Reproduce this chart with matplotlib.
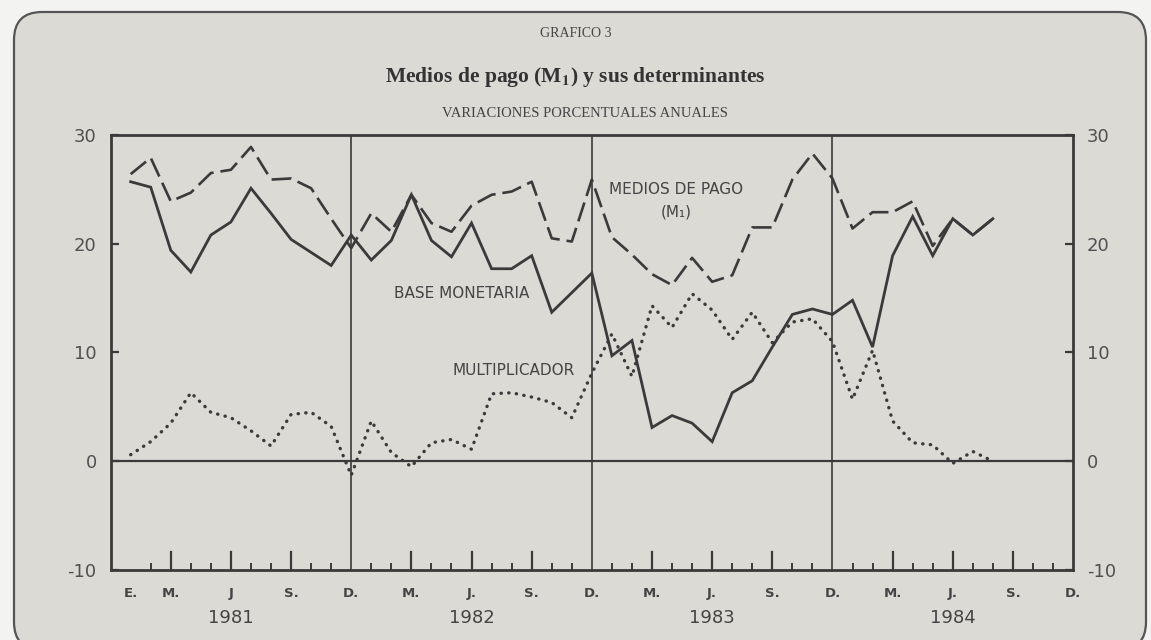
import numpy as np
import matplotlib
matplotlib.use("Agg")
import matplotlib.pyplot as plt
from matplotlib.patches import FancyBboxPatch

# ── Data: annual % change, monthly Jan 1981 .. Aug 1984 ──────────────────────
medios_pago = [
    26.4, 27.9, 23.9, 24.7, 26.5, 26.8, 28.9, 25.9, 26.0, 25.1, 22.3, 19.6,   # 1981
    22.8, 21.1, 24.5, 21.9, 21.1, 23.5, 24.5, 24.8, 25.7, 20.5, 20.2, 25.9,   # 1982
    20.6, 19.0, 17.2, 16.2, 18.7, 16.5, 17.1, 21.5, 21.5, 25.9, 28.3, 26.0,   # 1983
    21.4, 22.9, 22.9, 23.9, 19.8, 22.3, 20.8, 22.3,                           # 1984
]
base_monetaria = [
    25.7, 25.2, 19.4, 17.4, 20.8, 22.0, 25.1, 22.8, 20.4, 19.2, 18.0, 20.8,
    18.5, 20.3, 24.5, 20.3, 18.8, 21.9, 17.7, 17.7, 18.9, 13.7, 15.5, 17.3,
    9.7, 11.1, 3.1, 4.2, 3.5, 1.8, 6.3, 7.4, 10.5, 13.5, 14.0, 13.5,
    14.8, 10.5, 18.9, 22.5, 18.9, 22.3, 20.8, 22.3,
]
multiplicador = [
    0.6, 1.8, 3.5, 6.3, 4.5, 4.0, 2.8, 1.4, 4.3, 4.5, 3.2, -1.3,
    3.7, 0.8, -0.5, 1.7, 2.0, 1.1, 6.2, 6.3, 5.9, 5.4, 4.0, 8.1,
    11.7, 7.8, 14.3, 12.3, 15.4, 13.9, 11.2, 13.7, 10.9, 12.8, 13.1, 11.0,
    5.7, 10.2, 3.7, 1.7, 1.5, -0.2, 0.9, 0.0,
]

# month index: Dec 1980 = 0, Jan 1981 = 1, ... Dec 1984 = 48
tick_pos    = [1, 3, 6, 9, 12, 15, 18, 21, 24, 27, 30, 33, 36, 39, 42, 45, 48]
tick_labels = ["E.", "M.", "J", "S.", "D.", "M.", "J.", "S.", "D.",
               "M.", "J.", "S.", "D.", "M.", "J.", "S.", "D."]
long_ticks  = [3, 6, 9, 15, 18, 21, 27, 30, 33, 39, 42, 45]
year_pos    = [6, 18, 30, 42]
year_labels = ["1981", "1982", "1983", "1984"]
year_breaks = [12, 24, 36]
y_ticks     = [-10, 0, 10, 20, 30]

# ── Style ─────────────────────────────────────────────────────────────────────
PAPER = "#dcdad5"
OUTER = "#f3f3f1"
INK   = "#3a3a3a"
TXT   = "#444444"

plt.rcParams["mathtext.fontset"] = "stix"

fig = plt.figure(figsize=(11.51, 6.4), dpi=100, facecolor=OUTER)

# rounded paper card
card = FancyBboxPatch((0.14, -0.10), 11.32, 6.38,
                      boxstyle="round,pad=0,rounding_size=0.28",
                      transform=fig.dpi_scale_trans,
                      facecolor=PAPER, edgecolor="#555555", linewidth=1.6,
                      zorder=-5)
fig.patches.append(card)

ax = fig.add_axes([0.0961, 0.1094, 0.8362, 0.6797])
ax.set_zorder(2)
ax.patch.set_alpha(0)

x = np.arange(1, len(medios_pago) + 1)

ax.plot(x, medios_pago, color=INK, linewidth=1.9,
        linestyle=(0, (7.5, 2.6)), dash_capstyle="butt", zorder=4)
ax.plot(x, base_monetaria, color=INK, linewidth=2.0,
        solid_joinstyle="miter", zorder=5)
ax.plot(x, multiplicador, color=INK, linewidth=2.4,
        linestyle=(0, (0.1, 2.2)), dash_capstyle="round", zorder=3)

# reference lines
ax.axhline(0, color=INK, linewidth=1.6, zorder=2)
for xb in year_breaks:
    ax.axvline(xb, color=INK, linewidth=1.2, zorder=2)

ax.set_xlim(0, 48)
ax.set_ylim(-10, 30)

for s in ax.spines.values():
    s.set_color(INK)
    s.set_linewidth(2.0)

ax.set_yticks(y_ticks)
ax.set_yticklabels([str(v) for v in y_ticks])
ax.tick_params(axis="y", direction="in", length=6, width=1.6, color=INK,
               labelsize=13, labelcolor="#505050", pad=10,
               left=True, right=True, labelleft=True, labelright=True)

# labelled positions (no tick line) + month ticks short, quarter ticks long
ax.set_xticks(tick_pos)
ax.set_xticklabels(tick_labels, fontsize=9.5, color=TXT, fontweight="bold")
ax.tick_params(axis="x", which="major", length=0, pad=12)
ax.set_xticks(range(1, 48), minor=True)
ax.tick_params(axis="x", which="minor", direction="in", length=5, width=1.4,
               color=INK)
for xl in long_ticks:
    ax.plot([xl, xl], [0, 0.042], transform=ax.get_xaxis_transform(),
            color=INK, linewidth=1.6, zorder=2)

for xp, lab in zip(year_pos, year_labels):
    ax.text(xp, -0.11, lab, transform=ax.get_xaxis_transform(),
            ha="center", va="center", fontsize=13, color=TXT)

# series labels
ax.text(28.2, 25.0, "MEDIOS DE PAGO", ha="center", va="center",
        fontsize=11, color=TXT, zorder=6)
ax.text(28.2, 22.9, "(M\u2081)", ha="center", va="center",
        fontsize=11, color=TXT, zorder=6)
ax.text(17.5, 15.4, "BASE MONETARIA", ha="center", va="center",
        fontsize=11, color=TXT, zorder=6)
ax.text(20.1, 8.3, "MULTIPLICADOR", ha="center", va="center",
        fontsize=11, color=TXT, zorder=6)

# titles
fig.text(0.50, 0.948, "GRAFICO 3", ha="center", va="center",
         fontsize=10, family="Liberation Serif", color=TXT)
fig.text(0.50, 0.880, "Medios de pago (M$_\\mathbf{1}$) y sus determinantes",
         ha="center", va="center", fontsize=15.5, fontweight="bold",
         family="Liberation Serif", color="#333333")
fig.text(0.508, 0.823, "VARIACIONES PORCENTUALES ANUALES", ha="center",
         va="center", fontsize=10.5, family="Liberation Serif", color=TXT)

fig.savefig("out.png", dpi=100, facecolor=OUTER)
